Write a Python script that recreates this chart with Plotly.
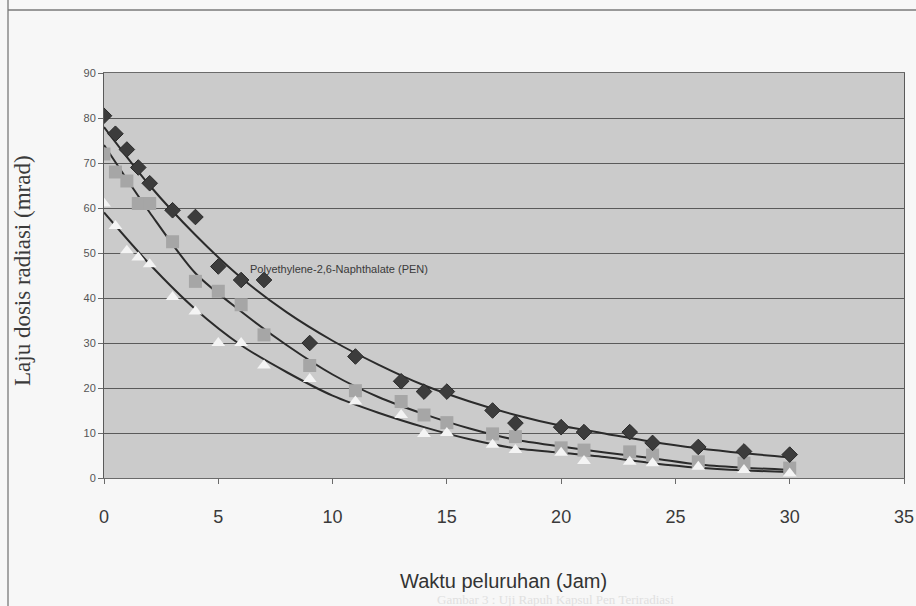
import plotly.graph_objects as go

# ---- data ----
time_h = [0, 0.5, 1, 1.5, 2, 3, 4, 5, 6, 7, 9, 11, 13, 14, 15, 17, 18, 20, 21, 23, 24, 26, 28, 30]
pen_a = [80.5, 76.5, 73, 69, 65.5, 59.5, 58, 47, 44, 44, 30, 27, 21.5, 19.2, 19.2, 15, 12.2, 11.3, 10.2, 10.2, 7.8, 6.9, 5.9, 5.2]
pen_b = [72, 68, 66, 61, 61, 52.5, 43.7, 41.5, 38.5, 31.8, 25, 19.4, 17, 14, 12.3, 9.8, 9.2, 6.7, 6.2, 5.8, 5.1, 3.6, 3.3, 2.2]
pen_c = [61, 56, 50.5, 49, 47.5, 40.2, 37, 30, 30, 25, 22, 17, 14, 9.8, 10, 7.4, 6.2, 5.6, 3.8, 3.6, 3.3, 2.5, 1.8, 1.0]

curve_x = [0, 2, 4, 6, 8, 10, 12, 14, 16, 18, 20, 22, 24, 26, 28, 30]
curve_a = [78, 65, 54, 44.5, 36.8, 30.5, 25.2, 20.6, 17, 14, 11.6, 9.8, 8, 6.6, 5.5, 4.6]
curve_b = [74, 59, 45.5, 37, 29.5, 23, 18, 14.2, 11, 8.5, 7, 5.6, 4.4, 3, 2.3, 1.8]
curve_c = [59, 47.5, 37.5, 29.5, 23.5, 18.3, 14.5, 11.3, 8.6, 6.6, 5.6, 4.6, 3.3, 2.3, 1.7, 1.3]

x_ticks = [0, 5, 10, 15, 20, 25, 30, 35]
y_ticks = [0, 10, 20, 30, 40, 50, 60, 70, 80, 90]

label_pen = "Polyethylene-2,6-Naphthalate (PEN)"
x_title = "Waktu peluruhan (Jam)"
y_title = "Laju dosis radiasi (mrad)"
caption = "Gambar 3 : Uji Rapuh Kapsul Pen Teriradiasi"

W, H = 916, 606
L, R, T, B = 104, 12, 73, 128
PW, PH = W - L - R, H - T - B


def px(x):
    return (x - L) / PW


def py(y):
    return (H - B - y) / PH


fig = go.Figure()

line_style = dict(color="#2b2b2b", width=2, shape="spline", smoothing=0.8)
for cy in (curve_a, curve_b, curve_c):
    fig.add_trace(go.Scatter(x=curve_x, y=cy, mode="lines", line=line_style,
                             hoverinfo="skip", showlegend=False))

fig.add_trace(go.Scatter(x=time_h, y=pen_b, mode="markers", showlegend=False,
                         marker=dict(symbol="square", size=13, color="#a6a6a6",
                                     line=dict(width=0))))
fig.add_trace(go.Scatter(x=time_h, y=pen_c, mode="markers", showlegend=False,
                         marker=dict(symbol="triangle-up", size=12, color="#f4f4f4",
                                     line=dict(width=0))))
fig.add_trace(go.Scatter(x=time_h, y=pen_a, mode="markers", showlegend=False,
                         marker=dict(symbol="diamond", size=12, color="#3c3c3c",
                                     line=dict(width=1, color="#2a2a2a"))))

fig.add_annotation(x=6.3, y=46.5, xref="x", yref="y", text=label_pen,
                   showarrow=False, xanchor="left", yanchor="middle",
                   font=dict(family="Arial, Liberation Sans", size=11, color="#3a3a3a"))

fig.add_annotation(x=px(503), y=py(581), xref="paper", yref="paper", text=x_title,
                   showarrow=False, xanchor="center", yanchor="middle",
                   font=dict(family="Arial, Liberation Sans", size=20, color="#333333"))

fig.add_annotation(x=px(22), y=py(271), xref="paper", yref="paper",
                   text=y_title, showarrow=False, textangle=-90,
                   xanchor="center", yanchor="middle",
                   font=dict(family="Liberation Serif, Times New Roman, serif", size=23, color="#3a3a3a"))

fig.add_annotation(x=px(555), y=py(599), xref="paper", yref="paper", text=caption,
                   showarrow=False, xanchor="center", yanchor="middle",
                   font=dict(family="Liberation Serif, serif", size=13, color="#e0e0e0"))

# frame lines of the scanned page
fig.add_shape(type="line", xref="paper", yref="paper", x0=px(8), x1=px(8),
              y0=py(606), y1=py(0), line=dict(color="#8a8a8a", width=1.5))
fig.add_shape(type="line", xref="paper", yref="paper", x0=px(8), x1=px(916),
              y0=py(10), y1=py(10), line=dict(color="#7a7a7a", width=1.5))

fig.update_layout(
    width=W, height=H,
    margin=dict(l=L, r=R, t=T, b=B, autoexpand=False),
    paper_bgcolor="#f7f7f7",
    plot_bgcolor="#cbcbcb",
    showlegend=False,
    xaxis=dict(range=[0, 35], tickvals=x_ticks, ticktext=[str(v) for v in x_ticks],
               showgrid=False, zeroline=False, showline=True, linecolor="#6a6a6a",
               linewidth=1, mirror=True, ticks="outside", ticklen=5, tickcolor="#6a6a6a",
               ticklabelstandoff=17, ticklabeloverflow="allow", automargin=False,
               tickfont=dict(family="Arial, Liberation Sans", size=18, color="#3a3a3a")),
    yaxis=dict(range=[0, 90], tickvals=y_ticks, ticktext=[str(v) for v in y_ticks],
               showgrid=True, gridcolor="#5a5a5a", gridwidth=1, zeroline=False,
               showline=True, linecolor="#5a5a5a", linewidth=1, mirror=True,
               ticks="outside", ticklen=5, tickcolor="#6a6a6a", automargin=False,
               tickfont=dict(family="Arial, Liberation Sans", size=11, color="#555555")),
)

fig.write_html("out.html", config={"displayModeBar": False})

with open("out.html", "r", encoding="utf-8") as f:
    html = f.read()
html = html.replace("<body>", '<body style="margin:0;overflow:hidden">', 1)
with open("out.html", "w", encoding="utf-8") as f:
    f.write(html)
